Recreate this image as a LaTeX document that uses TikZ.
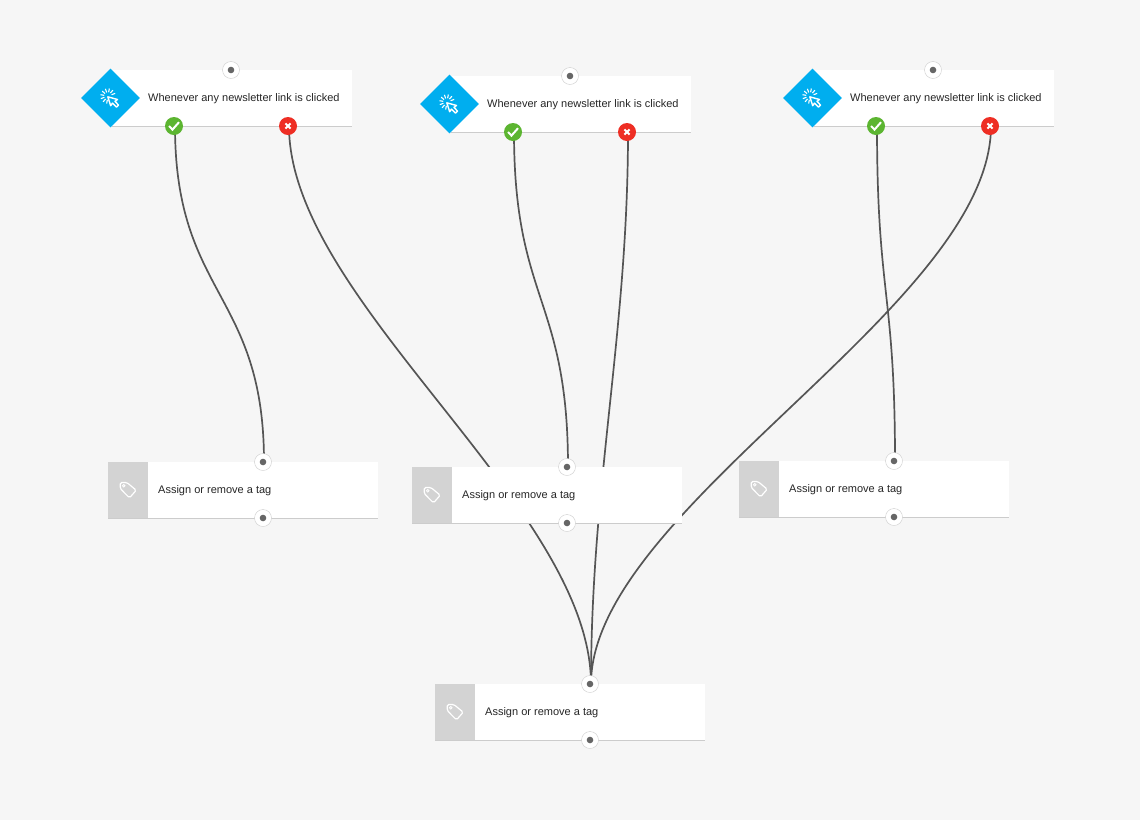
\documentclass[tikz,border=0pt]{standalone}
\usepackage{fontspec}
\setmainfont{Liberation Sans}
\usetikzlibrary{positioning}
\usetikzlibrary{backgrounds}
\usetikzlibrary{shapes.geometric}
\definecolor{pagegrey}{HTML}{F6F6F6}
\definecolor{edgegrey}{HTML}{CCCCCC}
\definecolor{wiregrey}{HTML}{555555}
\definecolor{dotgrey}{HTML}{666666}
\definecolor{panelgrey}{HTML}{D3D3D3}
\definecolor{triggerblue}{HTML}{00AEEF}
\definecolor{okgreen}{HTML}{5CB531}
\definecolor{nored}{HTML}{EE2E24}
\tikzset{
    card/.style={fill=white, inner sep=0, minimum height=56pt},
    trigcard/.style={card, minimum width=240pt, anchor=north west},
    tagcard/.style={card, minimum width=270pt, anchor=north west},
    cardtext/.style={inner sep=0, font=\fontsize{11pt}{13pt}\selectfont, text=black!85},
    trigbadge/.style={diamond, aspect=1, fill=triggerblue, inner sep=0, minimum size=59pt},
    tagpanel/.style={fill=panelgrey, inner sep=0, minimum width=40pt, minimum height=56pt, anchor=north west},
    port/.style={circle, draw=edgegrey, fill=white, inner sep=0, minimum size=17pt,
        path picture={\fill[dotgrey](path picture bounding box.center)circle(3.3);}},
    okport/.style={circle, fill=okgreen, inner sep=0, minimum size=18pt,
        path picture={\draw[white, line width=2pt, shift={(path picture bounding box.center)}](-5, 0)--(-1.5, 3.6)--(5, -3.8);}},
    noport/.style={circle, fill=nored, inner sep=0, minimum size=18pt,
        path picture={\draw[white, line width=2pt, shift={(path picture bounding box.center)}](-2.6, -2.6)--(2.6, 2.6)(-2.6, 2.6)--(2.6, -2.6);}},
    wire/.style={draw=wiregrey, line width=1.7pt},
}
\begin{document}
\begin{tikzpicture}[x=1pt, y=-1pt]
    \useasboundingbox(0, 0)rectangle(1140, 820);
    % trigger cards
    \foreach \n/\x/\y/\px in {1/112/70/119, 2/451/76/119, 3/814/70/119}{
        \node[trigcard](trig\n) at (\x, \y){};
        \draw[edgegrey](trig\n.south west)--(trig\n.south east);
        \node[trigbadge](badge\n) at (\x-1.5, \y+28){};
        \node[cardtext, right=36pt of trig\n.west, yshift=0pt](trigtext\n){Whenever any newsletter link is clicked};
        \node[port](trigin\n) at (\x+\px, \y){};
        \node[okport](ok\n) at (\x+62, \y+56){};
        \node[noport](no\n) at (\x+176, \y+56){};
        % pointer with rays
        \begin{scope}[shift={(badge\n.center)}, white]
            \foreach \a in {100, 130, ..., 340}
                \draw[line width=1.1pt, shift={(-2.5, -2)}](\a:3.8)--(\a:7.6);
            \draw[line width=1.4pt, line join=round, shift={(1, .3)}](-3.7, -1.5)--(-.8, 7.4)--(1, 4.8)--(5, 8.8)--(7, 6.8)--(3.5, 3)--(6, 1.2)--cycle;
        \end{scope}
    }
    % tag cards
    \foreach \n/\x/\y in {1/108/462, 2/412/467, 3/739/461, 4/435/684}{
        \node[tagcard](tag\n) at (\x, \y){};
        \draw[edgegrey](tag\n.south west)--(tag\n.south east);
        \node[tagpanel](panel\n) at (\x, \y){};
        \node[cardtext, right=50pt of tag\n.west, yshift=0pt](tagtext\n){Assign or remove a tag};
        \node[port](tagin\n) at (\x+155, \y){};
        \node[port](tagout\n) at (\x+155, \y+56){};
        % tag outline
        \begin{scope}[shift={(panel\n.center)}, white]
            \draw[line width=1.2pt, rounded corners=1.5pt](-8, -7.7)--(-1.3, -7.7)--(8, 0)--(1.3, 7.7)--(-8, -1.7)--cycle;
            \draw[line width=.8pt](-4.5, -4.4)circle(1.3);
        \end{scope}
    }
    \begin{scope}[on background layer]
        \fill[pagegrey](0, 0)rectangle(1140, 820);
        \draw[wire]([xshift=1pt]ok1.center).. controls +(0, 170) and +(0, -170) ..([xshift=1pt]tagin1.center);
        \draw[wire]([xshift=1pt]no1.center).. controls +(0, 175) and +(0, -178) ..([xshift=1pt]tagin4.center);
        \draw[wire]([xshift=1pt]ok2.center).. controls +(0, 170) and +(0, -170) ..([xshift=1pt]tagin2.center);
        \draw[wire]([xshift=1pt]no2.center).. controls +(0, 200) and +(0, -200) ..([xshift=1pt]tagin4.center);
        \draw[wire]([xshift=1pt]ok3.center).. controls +(0, 170) and +(0, -170) ..([xshift=1pt]tagin3.center);
        \draw[wire]([xshift=1pt]no3.center).. controls +(0, 180) and +(0, -175) ..([xshift=1pt]tagin4.center);
    \end{scope}
\end{tikzpicture}
\end{document}
